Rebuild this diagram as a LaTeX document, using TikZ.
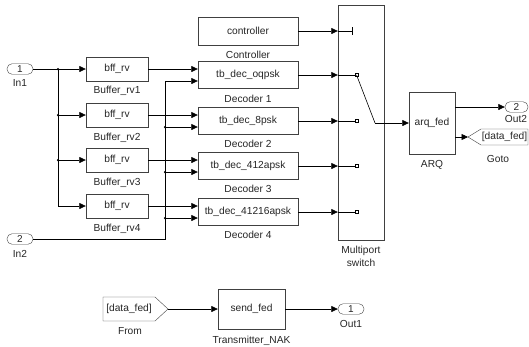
\documentclass[tikz,border=0pt]{standalone}
\usepackage{fontspec}
\setmainfont{Liberation Sans}
\usetikzlibrary{arrows.meta,calc}
\begin{document}
\begin{tikzpicture}[x=1pt,y=-1pt,
  font=\fontsize{10.2}{12}\selectfont,
  blk/.style={draw=black!75, fill=white, inner sep=0pt, text=black!85},
  lbl/.style={inner sep=0pt, anchor=base, text=black!85},
  pill/.style={draw=black!75, rounded corners=5pt, minimum width=26pt, minimum height=10.5pt, inner sep=0pt, text=black!85, font=\fontsize{10}{10}\selectfont},
  wire/.style={draw=black, line width=0.6pt},
  arr/.style={wire, -{Triangle[length=6.5pt,width=6pt]}},
  jdot/.style={circle, fill=black, inner sep=0pt, minimum size=2.5pt},
  sq/.style={draw=black, fill=white, inner sep=0pt, minimum size=3pt, line width=0.5pt},
  buf/.style={blk, minimum width=62pt, minimum height=24pt},
  dec/.style={blk, minimum width=100pt, minimum height=27pt}
]
\useasboundingbox (0,0) rectangle (529,346);

% inputs
\node[pill] (in1) at (20,69) {1};
\node[lbl] (in1l) at (20,86) {In1};
\node[pill] (in2) at (20,239) {2};
\node[lbl] (in2l) at (20,257) {In2};

% buffers
\node[buf] (b1) at (117,69) {bff\_rv};
\node[buf] (b2) at (117,115) {bff\_rv};
\node[buf] (b3) at (117,160) {bff\_rv};
\node[buf] (b4) at (117,206) {bff\_rv};
\node[lbl] (b1l) at (117,93) {Buffer\_rv1};
\node[lbl] (b2l) at (117,140) {Buffer\_rv2};
\node[lbl] (b3l) at (117,185.5) {Buffer\_rv3};
\node[lbl] (b4l) at (117,231.5) {Buffer\_rv4};

% controller and decoders
\node[blk, minimum width=100pt, minimum height=28pt] (ctrl) at (248,31) {controller};
\node[lbl] (ctrll) at (248,58) {Controller};
\node[dec] (d1) at (248,75) {tb\_dec\_oqpsk};
\node[dec] (d2) at (248,121) {tb\_dec\_8psk};
\node[dec] (d3) at (248,166) {tb\_dec\_412apsk};
\node[dec] (d4) at (248,212) {tb\_dec\_41216apsk};
\node[lbl] (d1l) at (248,102) {Decoder 1};
\node[lbl] (d2l) at (248,147) {Decoder 2};
\node[lbl] (d3l) at (248,192) {Decoder 3};
\node[lbl] (d4l) at (248,238) {Decoder 4};

% switch
\node[blk, fill=none, minimum width=46pt, minimum height=235pt] (sw) at (361,122.5) {};
\node[lbl] (swl1) at (361,253) {Multiport};
\node[lbl] (swl2) at (361,266) {switch};

% ARQ
\node[blk, minimum width=46pt, minimum height=62pt] (arq) at (432,123) {arq\_fed};
\node[lbl] (arql) at (432,167) {ARQ};
\node[pill, minimum width=23pt] (out2) at (516.5,107) {2};
\node[lbl] (out2l) at (516,122) {Out2};
\node[inner sep=0pt, text=black!85] (goto) at (504.5,137) {[data\_fed]};
\draw[draw=black!75] (468,137) -- (481,129) -- (528,129) -- (528,145) -- (481,145) -- cycle;
\coordinate (gtip) at (468,137);
\node[lbl] (gotol) at (498,162) {Goto};

% bottom row
\node[inner sep=0pt, text=black!85] (from) at (129,309) {[data\_fed]};
\draw[draw=black!75] (103,297) -- (155,297) -- (168,309) -- (155,321) -- (103,321) -- cycle;
\coordinate (ftip) at (168,309);
\node[lbl] (froml) at (130,334) {From};
\node[blk, minimum width=67pt, minimum height=40pt] (tx) at (251.5,309) {send\_fed};
\node[lbl] (txl) at (251.5,343) {Transmitter\_NAK};
\node[pill] (out1) at (351,309) {1};
\node[lbl] (out1l) at (351,327) {Out1};

% In1 distribution
\coordinate (j1) at (58,69);
\draw[arr] (in1.east) -- (b1.west);
\draw[wire] (j1) -- (j1 |- b4.west);
\draw[arr] (j1 |- b2.west) -- (b2.west);
\draw[arr] (j1 |- b3.west) -- (b3.west);
\draw[arr] (j1 |- b4.west) -- (b4.west);
\node[jdot] (jd1) at (j1) {};
\node[jdot] (jd2) at (j1 |- b2.west) {};
\node[jdot] (jd3) at (j1 |- b3.west) {};

% buffers to decoders
\draw[arr] (b1.east) -- (b1.east -| d1.west);
\draw[arr] (b2.east) -- (b2.east -| d2.west);
\draw[arr] (b3.east) -- (b3.east -| d3.west);
\draw[arr] (b4.east) -- (b4.east -| d4.west);

% In2 distribution
\coordinate (d1p) at ($(d1.west)+(0,6)$);
\coordinate (d2p) at ($(d2.west)+(0,6)$);
\coordinate (d3p) at ($(d3.west)+(0,6)$);
\coordinate (d4p) at ($(d4.west)+(0,6)$);
\coordinate (bx) at (165,0);
\draw[arr] (in2.east) -| (bx |- d1p) -- (d1p);
\draw[arr] (bx |- d2p) -- (d2p);
\draw[arr] (bx |- d3p) -- (d3p);
\draw[arr] (bx |- d4p) -- (d4p);
\node[jdot] (je2) at (bx |- d2p) {};
\node[jdot] (je3) at (bx |- d3p) {};
\node[jdot] (je4) at (bx |- d4p) {};

% into switch
\draw[arr] (ctrl.east) -- (ctrl.east -| sw.west);
\draw[wire] (ctrl.east -| sw.west) -- ++(14,0) coordinate (tk);
\draw[wire] ($(tk)+(0,-4)$) -- ($(tk)+(0,4)$);
\draw[arr] (d1.east) -- (d1.east -| sw.west);
\draw[arr] (d2.east) -- (d2.east -| sw.west);
\draw[arr] (d3.east) -- (d3.east -| sw.west);
\draw[arr] (d4.east) -- (d4.east -| sw.west);
\draw[wire] (d1.east -| sw.west) -- ++(17,0) node[sq, anchor=west] (s1) {};
\draw[wire] (d2.east -| sw.west) -- ++(17,0) node[sq, anchor=west] (s2) {};
\draw[wire] (d3.east -| sw.west) -- ++(17,0) node[sq, anchor=west] (s3) {};
\draw[wire] (d4.east -| sw.west) -- ++(17,0) node[sq, anchor=west] (s4) {};
\coordinate (lev) at (375,123);
\draw[wire] (s1.center) -- (lev);
\draw[arr] (lev) -- (arq.west);

% ARQ outputs
\draw[arr] ($(arq.east)+(0,-16)$) -- (out2.west);
\draw[arr] ($(arq.east)+(0,14)$) -- (gtip);

% bottom connections
\draw[arr] (ftip) -- (tx.west);
\draw[arr] (tx.east) -- (out1.west);
\end{tikzpicture}
\end{document}
